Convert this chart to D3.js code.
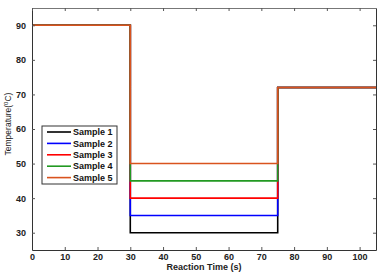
<!DOCTYPE html>
<html>
<head>
<meta charset="utf-8">
<script src="https://cdn.jsdelivr.net/npm/d3@7"></script>
<style>
  body { margin: 0; background: #fff; }
  text { font-family: "Liberation Sans", Arial, sans-serif; }
</style>
</head>
<body>
<svg id="chart"></svg>
<script>
// Step profile: hold 90 until 30 s, drop to a sample level until 75 s, then 72
const samples = ['Sample 1', 'Sample 2', 'Sample 3', 'Sample 4', 'Sample 5'];
const colors = ['#000000', '#0000ff', '#ff0000', '#229922', '#d9531e'];
const stepTimes = [0, 30, 75, 105];
const startTemp = 90;
const midTemps = [30, 35, 40, 45, 50];
const endTemp = 72;
const xTicks = [0, 10, 20, 30, 40, 50, 60, 70, 80, 90, 100];
const yTicks = [30, 40, 50, 60, 70, 80, 90];

const margin = { top: 8, right: 6, bottom: 23, left: 32 };
const width = 382 - margin.left - margin.right;
const height = 273 - margin.top - margin.bottom;

const svg = d3.select('#chart')
    .attr('width', 382)
    .attr('height', 273);

const g = svg.append('g')
    .attr('transform', `translate(${margin.left},${margin.top})`);

const x = d3.scaleLinear().domain([0, 105]).range([0, width]);
const y = d3.scaleLinear().domain([25, 95]).range([height, 0]);

// build step points for each sample
const series = samples.map((name, i) => ({
    name,
    color: colors[i],
    points: [
        [stepTimes[0], startTemp], [stepTimes[1], startTemp],
        [stepTimes[1], midTemps[i]], [stepTimes[2], midTemps[i]],
        [stepTimes[2], endTemp], [stepTimes[3], endTemp]
    ]
}));

const line = d3.line().x(d => x(d[0])).y(d => y(d[1]));

g.selectAll('.series')
    .data(series)
    .enter()
    .append('path')
    .attr('fill', 'none')
    .attr('stroke', d => d.color)
    .attr('stroke-width', 1.6)
    .attr('d', d => line(d.points));

// axes, ticks inward like matlab
function styleAxis(sel) {
    sel.select('.domain').attr('stroke', '#333').attr('stroke-width', 1);
    sel.selectAll('.tick line').attr('stroke', '#555');
    sel.selectAll('text')
        .attr('font-size', 9)
        .attr('font-weight', 'bold')
        .attr('fill', '#222');
}

g.append('g')
    .attr('transform', `translate(0,${height})`)
    .call(d3.axisBottom(x).tickValues(xTicks).tickSizeInner(-3).tickSizeOuter(0).tickPadding(4))
    .call(styleAxis);

g.append('g')
    .call(d3.axisLeft(y).tickValues(yTicks).tickSizeInner(-3).tickSizeOuter(0).tickPadding(6))
    .call(styleAxis);

g.append('g')
    .call(d3.axisTop(x).tickValues(xTicks).tickSizeInner(-3).tickSizeOuter(0).tickFormat(''))
    .call(styleAxis)
    .select('.domain').attr('stroke', '#777');

g.append('g')
    .attr('transform', `translate(${width},0)`)
    .call(d3.axisRight(y).tickValues(yTicks).tickSizeInner(-3).tickSizeOuter(0).tickFormat(''))
    .call(styleAxis);

// axis labels
svg.append('text')
    .attr('x', margin.left + width / 2)
    .attr('y', 270)
    .attr('text-anchor', 'middle')
    .attr('font-size', 9)
    .attr('font-weight', 'bold')
    .attr('fill', '#222')
    .text('Reaction Time (s)');

const yl = svg.append('text')
    .attr('transform', 'translate(11,124) rotate(-90)')
    .attr('text-anchor', 'middle')
    .attr('font-size', 8.5)
    .attr('fill', '#222');
yl.append('tspan').text('Temperature(');
yl.append('tspan').attr('font-size', 6).attr('dy', -3).text('0');
yl.append('tspan').attr('dy', 3).text('C)');

// legend
const legend = svg.append('g').attr('transform', 'translate(42,126)');
legend.append('rect')
    .attr('width', 75)
    .attr('height', 58)
    .attr('fill', '#fff')
    .attr('stroke', '#333')
    .attr('stroke-width', 1);

const item = legend.selectAll('.item')
    .data(series)
    .enter()
    .append('g')
    .attr('transform', (d, i) => `translate(0,${6 + i * 11.4})`);

item.append('line')
    .attr('x1', 5).attr('x2', 29)
    .attr('stroke', d => d.color)
    .attr('stroke-width', 1.6);

item.append('text')
    .attr('x', 31)
    .attr('dy', '0.35em')
    .attr('font-size', 9)
    .attr('font-weight', 'bold')
    .attr('fill', '#111')
    .text(d => d.name);
</script>
</body>
</html>
